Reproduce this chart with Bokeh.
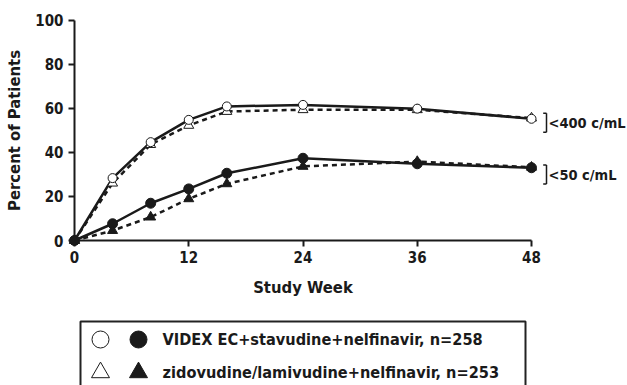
from bokeh.plotting import figure
from bokeh.models import LinearAxis, FixedTicker, Range1d
from bokeh.embed import file_html
from bokeh.resources import INLINE
from bokeh.core.properties import value

# ---------------- data ----------------
weeks = [0, 4, 8, 12, 16, 24, 36, 48]
videx_400 = [0, 28.3, 44.6, 54.7, 60.8, 61.5, 59.8, 55.2]
zido_400 = [0, 26.0, 43.5, 52.2, 58.5, 59.3, 59.3, 55.5]
videx_50 = [0, 7.6, 16.9, 23.4, 30.5, 37.3, 34.8, 33.0]
zido_50 = [0, 4.5, 10.6, 18.9, 25.7, 33.6, 35.8, 33.2]
x_ticks = [0, 12, 24, 36, 48]
y_ticks = [0, 20, 40, 60, 80, 100]
legend_labels = ["VIDEX EC+stavudine+nelfinavir, n=258",
                 "zidovudine/lamivudine+nelfinavir, n=253"]
group_labels = ["<400 c/mL", "<50 c/mL"]

# ---------------- layout ----------------
W, H = 627, 385
X0_PX, X48_PX = 74.0, 531.0      # pixels of week 0 / 48
Y0_PX, Y100_PX = 240.0, 19.5     # pixels of 0% / 100%
kx = (X48_PX - X0_PX) / 48.0
ky = (Y0_PX - Y100_PX) / 100.0


def dx(px):
    return (px - X0_PX) / kx


def dy(py):
    return (Y0_PX - py) / ky


FONT = "'DejaVu Sans Condensed', 'Liberation Sans Narrow', sans-serif"
INK = "#1a1a1a"

p = figure(width=W, height=H, output_backend="svg", toolbar_location=None,
           x_range=Range1d(dx(0), dx(W)), y_range=Range1d(dy(H), dy(0)),
           x_axis_type=None, y_axis_type=None, min_border=0,
           outline_line_color=None, background_fill_color="white",
           border_fill_color="white")

# axes
xaxis = LinearAxis(fixed_location=0, bounds=(0, 48),
                   ticker=FixedTicker(ticks=x_ticks, minor_ticks=[]),
                   axis_label="Study Week")
yaxis = LinearAxis(fixed_location=0, bounds=(0, 100),
                   ticker=FixedTicker(ticks=y_ticks, minor_ticks=[]),
                   axis_label="Percent of Patients")
for ax in (xaxis, yaxis):
    ax.axis_line_width = 2
    ax.axis_line_color = INK
    ax.major_tick_line_width = 2
    ax.major_tick_line_color = INK
    ax.major_tick_in = 0
    ax.major_tick_out = 6
    ax.minor_tick_line_color = None
    ax.major_label_text_font = FONT
    ax.major_label_text_font_style = "bold"
    ax.major_label_text_font_size = "15px"
    ax.major_label_text_color = INK
    ax.axis_label_text_font = FONT
    ax.axis_label_text_font_style = "bold"
    ax.axis_label_text_font_size = "16.5px"
    ax.axis_label_text_color = INK
xaxis.major_label_standoff = 4
xaxis.axis_label_standoff = 12
yaxis.major_label_standoff = 5
yaxis.axis_label_standoff = 8
p.add_layout(xaxis, "below")
p.add_layout(yaxis, "left")

# series lines
p.line(weeks, zido_400, line_color=INK, line_width=2.5, line_dash="5 4")
p.line(weeks, zido_50, line_color=INK, line_width=2.5, line_dash="5 4")
p.line(weeks, videx_400, line_color=INK, line_width=2.5)
p.line(weeks, videx_50, line_color=INK, line_width=2.5)

# markers
p.scatter(weeks, zido_400, marker="triangle", size=10, fill_color="white",
          line_color=INK, line_width=1)
p.scatter(weeks, videx_400, marker="circle", size=9, fill_color="white",
          line_color=INK, line_width=1)
p.scatter(weeks, videx_50, marker="circle", size=10, fill_color=INK,
          line_color=INK, line_width=1)
p.scatter(weeks, zido_50, marker="triangle", size=10, fill_color=INK,
          line_color=INK, line_width=1)

# group brackets and labels
br_center = [dy(122.2), dy(174.0)]
br_half = 9.5 / ky
br_x = dx(546.0)
br_tick = dx(542.7)
p.segment(x0=[br_x, br_x], y0=[c - br_half for c in br_center],
          x1=[br_x, br_x], y1=[c + br_half for c in br_center],
          line_color=INK, line_width=1.5)
p.segment(x0=[br_tick] * 4, x1=[br_x] * 4,
          y0=[br_center[0] - br_half, br_center[0] + br_half,
              br_center[1] - br_half, br_center[1] + br_half],
          y1=[br_center[0] - br_half, br_center[0] + br_half,
              br_center[1] - br_half, br_center[1] + br_half],
          line_color=INK, line_width=1.5)
p.text(x=[dx(548.0)] * 2, y=br_center, text=group_labels,
       text_font=value(FONT), text_font_style="bold", text_font_size="14.5px",
       text_color=INK, text_baseline="middle", text_align="left")

# legend box (drawn manually: two symbols per row)
p.quad(left=[dx(80.0)], right=[dx(525.0)], top=[dy(321.0)], bottom=[dy(H + 20)],
       fill_color="white", line_color="#222222", line_width=2)
row_y = [dy(339.0), dy(372.0)]
p.scatter([dx(100.0)], [row_y[0]], marker="circle", size=17, fill_color="white",
          line_color=INK, line_width=1)
p.scatter([dx(138.0)], [row_y[0]], marker="circle", size=17, fill_color=INK,
          line_color=INK, line_width=1)
p.scatter([dx(100.0)], [row_y[1]], marker="triangle", size=18, fill_color="white",
          line_color=INK, line_width=1)
p.scatter([dx(138.0)], [row_y[1]], marker="triangle", size=18, fill_color=INK,
          line_color=INK, line_width=1)
p.text(x=[dx(162.0)] * 2, y=row_y, text=legend_labels,
       text_font=value(FONT), text_font_style="bold", text_font_size="16.2px",
       text_color=INK, text_baseline="middle", text_align="left")

open("out.html", "w").write(file_html(p, INLINE))
